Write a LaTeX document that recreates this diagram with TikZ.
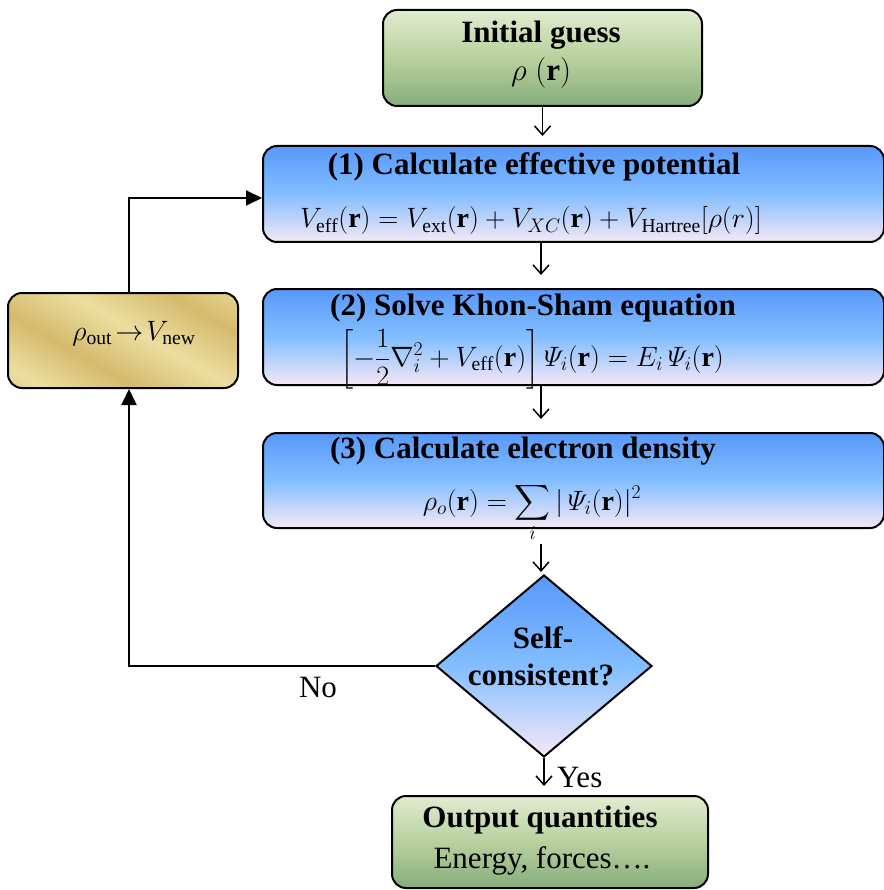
\RequirePackage{fix-cm}
\documentclass[tikz,border=0pt]{standalone}
\usepackage{amsmath}
\usepackage{fontspec}
\setmainfont{Liberation Serif}
\usetikzlibrary{arrows.meta,shapes.geometric}
\definecolor{bTop}{RGB}{88,152,250}
\definecolor{bMid}{RGB}{130,190,255}
\definecolor{bBot}{RGB}{246,232,246}
\definecolor{gTop}{RGB}{224,236,208}
\definecolor{gMid}{RGB}{184,208,158}
\definecolor{gBot}{RGB}{134,174,124}
\definecolor{au1}{RGB}{212,186,108}
\definecolor{au2}{RGB}{236,222,160}
\pgfdeclarehorizontalshading{goldsh}{100bp}{color(0bp)=(au1); color(22bp)=(au2); color(38bp)=(au1); color(55bp)=(au2); color(72bp)=(au1); color(88bp)=(au2); color(100bp)=(au2)}
\tikzset{
  bluebox/.style={draw=black, line width=2pt, rounded corners=14pt, inner sep=0pt,
    top color=bTop, bottom color=bBot, middle color=bMid},
  greenbox/.style={draw=black, line width=2pt, rounded corners=14pt, inner sep=0pt,
    top color=gTop, bottom color=gBot, middle color=gMid},
  goldbox/.style={draw=black, line width=2pt, rounded corners=14pt, inner sep=0pt,
    shading=goldsh, shading angle=60},
  decide/.style={draw=black, line width=2pt, shape=diamond, inner sep=0pt,
    top color=bTop, bottom color=bBot, middle color=bMid},
  txt/.style={anchor=base, inner sep=0pt, font=\fontsize{31}{36}\selectfont},
  btxt/.style={txt, font=\fontsize{31}{36}\selectfont\bfseries},
  mtxt/.style={anchor=base, inner sep=0pt, font=\fontsize{28}{33}\selectfont},
  openarr/.style={line width=1.5pt, -{Straight Barb[length=9pt,width=16pt]}},
  fillarr/.style={line width=2pt, -{Triangle[length=16pt,width=15pt]}},
}
\begin{document}
\begin{tikzpicture}[x=1pt,y=-1pt]
\useasboundingbox (0,0) rectangle (883,890);
% boxes
\node[greenbox, minimum width=319pt, minimum height=96pt] (init) at (542.5,58) {};
\node[bluebox, minimum width=621pt, minimum height=96pt] (b1) at (573.5,194) {};
\node[bluebox, minimum width=621pt, minimum height=96pt] (b2) at (573.5,337) {};
\node[bluebox, minimum width=621pt, minimum height=95pt] (b3) at (573.5,480.5) {};
\node[decide, minimum width=216pt, minimum height=182pt] (dia) at (544,666) {};
\node[greenbox, minimum width=316pt, minimum height=92pt] (out) at (550,842) {};
\node[goldbox, minimum width=230pt, minimum height=95pt] (lb) at (123,340.5) {};
% texts
\node[btxt] (t0a) at (541,43) {Initial guess};
\node[txt] (t0b) at (541,81) {$\rho\;(\mathbf{r})$};
\node[btxt] (t1a) at (534,175) {(1) Calculate effective potential};
\node[mtxt] (t1b) at (531,228) {$V_{\mathrm{eff}}(\mathbf{r})=V_{\mathrm{ext}}(\mathbf{r})+V_{XC}(\mathbf{r})+V_{\mathrm{Hartree}}[\rho(r)]$};
\node[btxt] (t2a) at (533,315) {(2) Solve Khon-Sham equation};
\node[mtxt] (t2b) at (532,366) {$\Bigl[-\dfrac{1}{2}\nabla_i^2+V_{\mathrm{eff}}(\mathbf{r})\Bigr]\,\varPsi_i(\mathbf{r})=E_i\,\varPsi_i(\mathbf{r})$};
\node[btxt] (t3a) at (523,458) {(3) Calculate electron density};
\node[mtxt] (t3b) at (532,510) {$\rho_o(\mathbf{r})=\displaystyle\sum_i|\,\varPsi_i(\mathbf{r})|^2$};
\node[btxt] (t4a) at (543,648) {Self-};
\node[btxt] (t4b) at (541,685) {consistent?};
\node[btxt] (t5a) at (540,827) {Output quantities};
\node[txt] (t5b) at (542,868) {Energy, forces….};
\node[mtxt] (t6) at (134,340) {$\rho_{\mathrm{out}}\!\rightarrow\! V_{\mathrm{new}}$};
\node[txt] (no) at (318,697) {No};
\node[txt, anchor=base west] (yes) at (557,787) {Yes};
% connectors
\draw[openarr, shorten >=9pt] (init.south) -- (init.south |- b1.north);
\draw[openarr, shorten >=13pt] (t0a.south |- b1.south) -- (t0a.south |- b2.north);
\draw[openarr, shorten >=13pt] (t0a.south |- b2.south) -- (t0a.south |- b3.north);
\draw[openarr, shorten <=15pt, shorten >=2pt] (t0a.south |- b3.south) -- (t0a.south |- dia.north);
\draw[openarr, shorten >=9pt] (dia.south) -- (dia.south |- out.north);
\draw[fillarr] (dia.west) -| ([xshift=6pt]lb.south);
\draw[fillarr] ([xshift=6pt]lb.north) |- ([yshift=-4pt]b1.west);
\end{tikzpicture}
\end{document}
